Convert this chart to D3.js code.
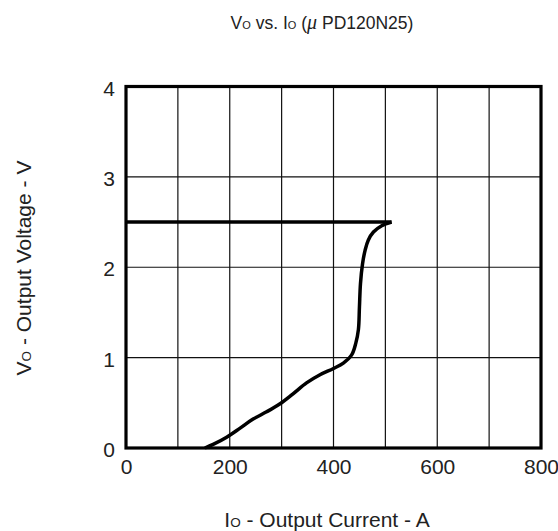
<!DOCTYPE html>
<html>
<head>
<meta charset="utf-8">
<script src="https://cdn.jsdelivr.net/npm/d3@7"></script>
<style>
  body { margin: 0; background: #fff; }
  svg text { font-family: "Liberation Sans", Arial, sans-serif; fill: #222; }
</style>
</head>
<body>
<svg id="chart" width="558" height="531"></svg>
<script>
// Vo vs Io curve
var currentA = [152, 168, 194, 220, 245, 271, 297, 322, 348, 374, 400, 419, 435, 443, 448, 450, 452, 456, 461, 467, 477, 493, 512];
var voltageV = [0, 0.04, 0.12, 0.22, 0.32, 0.40, 0.49, 0.60, 0.72, 0.81, 0.88, 0.94, 1.03, 1.16, 1.31, 1.56, 1.82, 2.04, 2.19, 2.30, 2.39, 2.46, 2.50];
// flat part going back to the left edge
var flatCurrentA = [512, 0];
var flatVoltageV = [2.50, 2.50];

var xTicks = [0, 200, 400, 600, 800];
var yTicks = [0, 1, 2, 3, 4];
var xGrid = [100, 200, 300, 400, 500, 600, 700];
var yGrid = [1, 2, 3];

var svg = d3.select("#chart");

// plot box (window.top is taken, so own names)
var plotLeft = 126, plotRight = 541, plotTop = 86.5, plotBottom = 448;

var x = d3.scaleLinear().domain([0, 800]).range([plotLeft, plotRight]);
var y = d3.scaleLinear().domain([0, 4]).range([plotBottom, plotTop]);

// grid lines
svg.append("g").selectAll("line").data(xGrid)
  .enter().append("line")
    .attr("x1", d => x(d)).attr("x2", d => x(d))
    .attr("y1", plotTop).attr("y2", plotBottom)
    .attr("stroke", "#111").attr("stroke-width", 1.2);

svg.append("g").selectAll("line").data(yGrid)
  .enter().append("line")
    .attr("x1", plotLeft).attr("x2", plotRight)
    .attr("y1", d => y(d)).attr("y2", d => y(d))
    .attr("stroke", "#111").attr("stroke-width", 1.2);

// frame
svg.append("rect")
  .attr("x", plotLeft).attr("y", plotTop)
  .attr("width", plotRight - plotLeft).attr("height", plotBottom - plotTop)
  .attr("fill", "none").attr("stroke", "#000").attr("stroke-width", 3.2);

// tick labels only, no tick marks
var xAxis = d3.axisBottom(x).tickValues(xTicks).tickFormat(d3.format("d")).tickSize(0).tickPadding(11);
var gx = svg.append("g").attr("transform", "translate(0," + plotBottom + ")").call(xAxis);
gx.select(".domain").remove();
gx.selectAll("text").style("font-size", "21px").attr("fill", "#222");

var yAxis = d3.axisLeft(y).tickValues(yTicks).tickFormat(d3.format("d")).tickSize(0).tickPadding(11);
var gy = svg.append("g").attr("transform", "translate(" + plotLeft + ",2)").call(yAxis);
gy.select(".domain").remove();
gy.selectAll("text").style("font-size", "21px").attr("fill", "#222");

// curve
var pts = currentA.map((c, i) => [c, voltageV[i]]);
var flat = flatCurrentA.map((c, i) => [c, flatVoltageV[i]]);

var line = d3.line().x(d => x(d[0])).y(d => y(d[1])).curve(d3.curveCatmullRom.alpha(0.5));
var flatLine = d3.line().x(d => x(d[0])).y(d => y(d[1]));

svg.append("path").attr("d", line(pts))
  .attr("fill", "none").attr("stroke", "#000").attr("stroke-width", 3.5);
svg.append("path").attr("d", flatLine(flat))
  .attr("fill", "none").attr("stroke", "#000").attr("stroke-width", 3.5);

// title
var title = svg.append("text").attr("x", 322).attr("y", 29)
  .attr("text-anchor", "middle").style("font-size", "17.5px");
title.append("tspan").text("V");
title.append("tspan").style("font-size", "11px").text("O");
title.append("tspan").text(" vs. I");
title.append("tspan").style("font-size", "11px").text("O");
title.append("tspan").text(" (");
title.append("tspan").style("font-family", "'Liberation Serif', serif").style("font-style", "italic").style("font-size", "20px").text("\u03bc");
title.append("tspan").text(" PD120N25)");

// axis titles
var xl = svg.append("text").attr("x", 327).attr("y", 527)
  .attr("text-anchor", "middle").style("font-size", "21px");
xl.append("tspan").text("I");
xl.append("tspan").style("font-size", "13.5px").text("O");
xl.append("tspan").text(" - Output Current - A");

var yl = svg.append("text").attr("transform", "translate(31,268) rotate(-90)")
  .attr("text-anchor", "middle").style("font-size", "21px");
yl.append("tspan").text("V");
yl.append("tspan").style("font-size", "13.5px").text("O");
yl.append("tspan").text(" - Output Voltage - V");
</script>
</body>
</html>
